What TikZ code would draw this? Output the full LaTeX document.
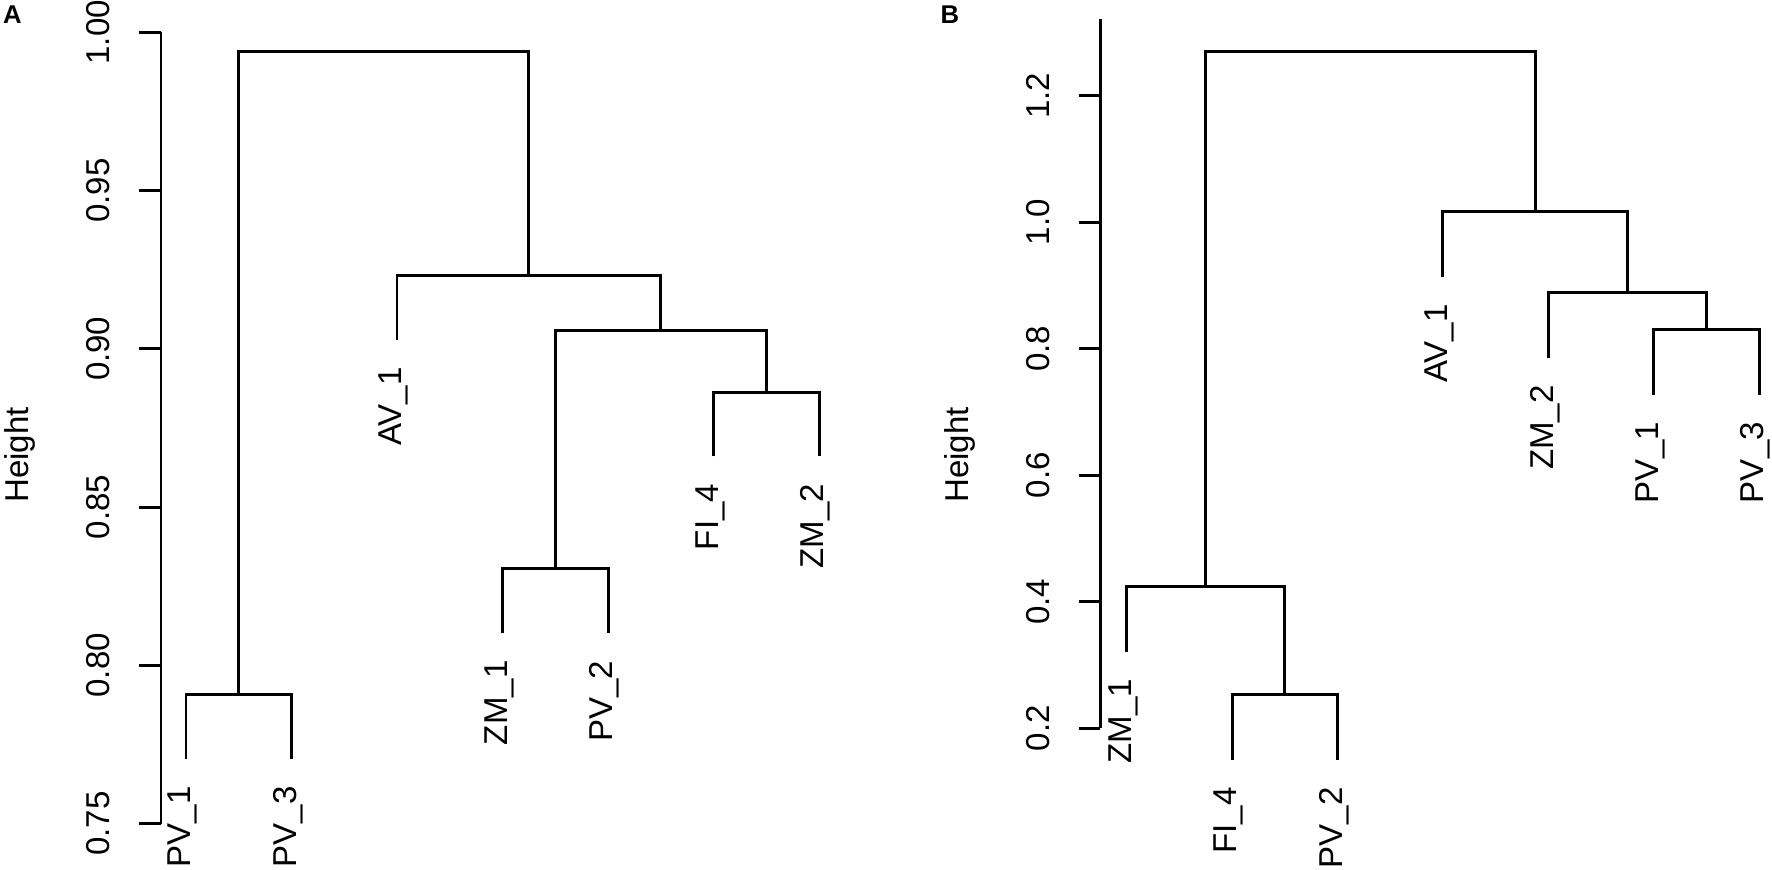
\documentclass[tikz,border=0pt]{standalone}
\usepackage{fontspec}
\setmainfont{Liberation Sans}
\usetikzlibrary{calc}

\begin{document}
\begin{tikzpicture}[x=0.01cm, y=0.01cm, line width=0.85pt,
  font=\fontsize{9.4}{11}\selectfont,
  leaf/.style={rotate=90, anchor=east, inner sep=0pt},
  ticklab/.style={rotate=90, anchor=south, inner sep=0pt},
  axlab/.style={rotate=90, anchor=base, inner sep=0pt},
  panel/.style={anchor=base west, inner sep=0pt, font=\fontsize{7.3}{9}\bfseries\selectfont}]
  \useasboundingbox (0,0) rectangle (1772,869);

  % ---- A ----
  \node[panel] (tagA) at (1.7,845.7) {A};
  \node[axlab] (ylabA) at (28.7,414) {Height};
  \begin{scope}[y=31.64cm, yshift=-23.277cm]
    \coordinate (axA0) at (161,0.75);
    \coordinate (axA1) at (161,1.00);
    \draw (axA0) -- (axA1);
    \foreach \v [count=\i] in {0.75,0.80,0.85,0.90,0.95,1.00} {
      \draw (161,\v) -- (139.3,\v);
      \node[ticklab] (tA\i) at (111,\v) {\v};
    }
    % leaves
    \coordinate (pv1A) at (186,0.7704);
    \coordinate (pv3A) at (291.5,0.7704);
    \coordinate (av1A) at (397,0.9028);
    \coordinate (zm1A) at (502.5,0.8102);
    \coordinate (pv2A) at (608,0.8102);
    \coordinate (fi4A) at (713.5,0.8660);
    \coordinate (zm2A) at (819,0.8660);
    % merges
    \coordinate (mA1) at (238.75,0.7907);
    \coordinate (mA2) at (555.25,0.8305);
    \coordinate (mA3) at (766.25,0.8863);
    \coordinate (mA4) at (660.75,0.9058);
    \coordinate (mA5) at (528.875,0.9231);
    \coordinate (mA6) at (383.8,0.9938);
    \draw (pv1A) |- (mA1) -| (pv3A);
    \draw (zm1A) |- (mA2) -| (pv2A);
    \draw (fi4A) |- (mA3) -| (zm2A);
    \draw (mA2) |- (mA4) -| (mA3);
    \draw (av1A) |- (mA5) -| (mA4);
    \draw (mA1) |- (mA6) -| (mA5);
    % labels
    \node[leaf] (lpv1A) at ($(pv1A)+(-0.034cm,-0.26cm)$) {PV\_1};
    \node[leaf] (lpv3A) at ($(pv3A)+(-0.034cm,-0.26cm)$) {PV\_3};
    \node[leaf] (lav1A) at ($(av1A)+(-0.034cm,-0.26cm)$) {AV\_1};
    \node[leaf] (lzm1A) at ($(zm1A)+(-0.034cm,-0.26cm)$) {ZM\_1};
    \node[leaf] (lpv2A) at ($(pv2A)+(-0.034cm,-0.26cm)$) {PV\_2};
    \node[leaf] (lfi4A) at ($(fi4A)+(-0.034cm,-0.26cm)$) {FI\_4};
    \node[leaf] (lzm2A) at ($(zm2A)+(-0.034cm,-0.26cm)$) {ZM\_2};
  \end{scope}

  % ---- B ----
  \node[panel] (tagB) at (939,845.7) {B};
  \node[axlab] (ylabB) at (968.5,414) {Height};
  \begin{scope}[y=6.32cm, yshift=0.143cm]
    \coordinate (axB0) at (1100.3,0.2);
    \coordinate (axB1) at (1100.3,1.3222);
    \draw (axB0) -- (axB1);
    \foreach \v [count=\i] in {0.2,0.4,0.6,0.8,1.0,1.2} {
      \draw (1100.3,\v) -- (1079,\v);
      \node[ticklab] (tB\i) at (1051,\v) {\v};
    }
    % leaves
    \coordinate (zm1B) at (1126.7,0.3213);
    \coordinate (fi4B) at (1232.1,0.1499);
    \coordinate (pv2B) at (1337.5,0.1499);
    \coordinate (av1B) at (1442.9,0.9137);
    \coordinate (zm2B) at (1548.3,0.7855);
    \coordinate (pv1B) at (1653.7,0.7274);
    \coordinate (pv3B) at (1759.1,0.7274);
    % merges
    \coordinate (mB1) at (1284.8,0.2527);
    \coordinate (mB2) at (1205.75,0.4241);
    \coordinate (mB3) at (1706.4,0.8302);
    \coordinate (mB4) at (1627.35,0.8883);
    \coordinate (mB5) at (1535.1,1.0165);
    \coordinate (mB6) at (1370.4,1.2696);
    \draw (fi4B) |- (mB1) -| (pv2B);
    \draw (zm1B) |- (mB2) -| (mB1);
    \draw (pv1B) |- (mB3) -| (pv3B);
    \draw (zm2B) |- (mB4) -| (mB3);
    \draw (av1B) |- (mB5) -| (mB4);
    \draw (mB2) |- (mB6) -| (mB5);
    % labels
    \node[leaf] (lzm1B) at ($(zm1B)+(-0.034cm,-0.26cm)$) {ZM\_1};
    \node[leaf] (lfi4B) at ($(fi4B)+(-0.034cm,-0.26cm)$) {FI\_4};
    \node[leaf] (lpv2B) at ($(pv2B)+(-0.034cm,-0.26cm)$) {PV\_2};
    \node[leaf] (lav1B) at ($(av1B)+(-0.034cm,-0.26cm)$) {AV\_1};
    \node[leaf] (lzm2B) at ($(zm2B)+(-0.034cm,-0.26cm)$) {ZM\_2};
    \node[leaf] (lpv1B) at ($(pv1B)+(-0.034cm,-0.26cm)$) {PV\_1};
    \node[leaf] (lpv3B) at ($(pv3B)+(-0.034cm,-0.26cm)$) {PV\_3};
  \end{scope}
\end{tikzpicture}
\end{document}
